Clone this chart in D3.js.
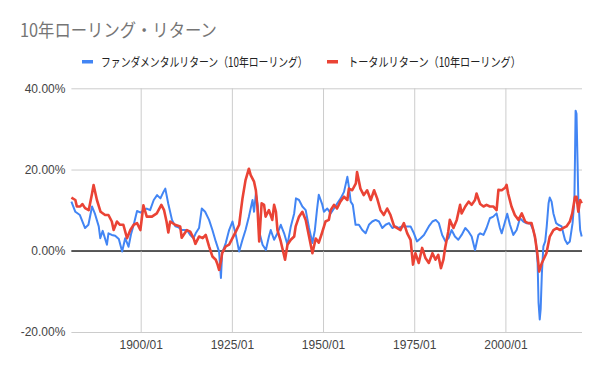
<!DOCTYPE html>
<html>
<head>
<meta charset="utf-8">
<script src="https://cdn.jsdelivr.net/npm/d3@7"></script>
<style>
  body { margin: 0; background: #fff; }
  svg text { font-family: "Liberation Sans", Arial, sans-serif; }
</style>
</head>
<body>
<svg id="chart"></svg>
<script>
// 10年ローリング・リターン
const fundDates = ["1881/01","1882/02","1883/05","1884/10","1885/09","1886/09","1887/07","1888/07","1888/12","1889/08",
  "1890/10","1891/03","1892/02","1893/01","1894/01","1894/12","1895/10","1896/09","1897/05","1898/02",
  "1899/01","1900/01","1900/10","1901/09","1902/08","1903/08","1904/07","1905/06","1906/04","1906/10",
  "1907/08","1908/08","1909/07","1910/05","1911/04","1912/09","1913/08","1914/07","1915/02","1916/01",
  "1916/10","1917/09","1918/10","1919/09","1920/08","1921/07","1922/01","1922/05","1923/05","1924/04",
  "1925/03","1926/02","1927/01","1927/12","1928/10","1929/09","1930/09","1931/02","1931/08","1932/02",
  "1932/07","1933/06","1934/05","1935/03","1935/09","1936/08","1937/07","1938/06","1939/05","1940/04",
  "1941/03","1942/02","1942/08","1943/06","1944/05","1945/04","1946/03","1947/02","1947/10","1948/05",
  "1948/11","1949/10","1950/04","1951/03","1952/02","1953/01","1953/12","1954/11","1955/10","1956/09",
  "1957/02","1957/08","1958/03","1958/12","1959/11","1960/10","1961/09","1962/08","1963/07","1964/06",
  "1965/05","1966/04","1967/03","1968/02","1969/01","1969/12","1970/10","1971/09","1972/08","1974/01",
  "1974/12","1975/10","1976/10","1977/09","1979/01","1980/01","1980/12","1981/10","1982/09","1983/08",
  "1984/06","1985/04","1986/03","1987/02","1988/01","1989/01","1989/12","1990/10","1991/09","1992/08",
  "1993/02","1994/01","1994/11","1995/10","1996/09","1997/08","1998/07","1999/01","1999/12","2000/07",
  "2001/04","2002/03","2003/02","2004/01","2004/12","2005/10","2006/10","2007/09","2008/05","2008/11",
  "2009/02","2009/06","2009/09","2010/01","2010/06","2010/12","2011/05","2011/11","2012/03","2012/09",
  "2013/03","2013/12","2014/07","2015/06","2016/05","2017/01","2017/09","2018/06","2018/12","2019/02",
  "2019/04","2019/07","2019/10","2020/01","2020/07","2020/12"];
const fundValues = [12.1,9.6,8.8,5.6,6.4,10.9,9.0,6.0,3.1,4.9,
  1.5,4.3,3.9,3.7,2.9,-0.2,3.1,1.0,4.0,6.4,
  9.8,9.4,10.0,10.4,10.0,12.5,13.7,12.9,14.5,15.3,
  11.5,7.6,6.0,5.8,5.1,5.1,3.9,3.1,4.3,5.6,
  10.4,9.6,7.6,5.1,2.3,-0.2,-6.7,-0.6,1.9,5.1,
  7.2,3.9,-0.2,2.7,5.1,8.4,12.5,9.6,14.1,11.0,
  4.7,1.5,0.2,3.5,5.1,2.7,4.3,6.4,4.3,1.5,
  6.0,9.2,12.9,12.5,10.9,10.0,5.6,1.9,5.0,10.0,
  13.8,11.5,9.6,10.4,9.2,10.4,11.7,12.9,14.5,18.2,
  15.8,12.1,11.3,6.4,6.4,5.1,4.3,6.4,7.2,7.6,
  7.2,5.6,6.4,6.8,5.6,6.0,5.6,6.0,6.0,6.0,
  4.3,2.3,3.1,3.9,6.0,7.2,7.6,6.8,3.9,2.3,
  3.1,5.1,3.5,2.7,3.9,5.6,4.7,3.5,0.2,3.9,
  4.3,3.9,5.6,8.0,8.4,9.2,5.6,4.3,7.2,9.1,
  6.4,3.9,5.1,8.0,7.2,6.8,6.8,5.1,2.3,-3.0,
  -12.8,-16.9,-14.4,-5.5,1.1,2.3,6.0,11.7,13.1,12.1,
  9.2,6.8,6.4,6.0,2.7,1.7,2.3,6.8,12.5,23.1,
  34.5,33.7,23.1,12.5,5.1,3.5];

const totalDates = ["1881/01","1882/02","1882/07","1883/06","1884/01","1884/10","1885/10","1886/09","1887/02","1888/01",
  "1889/01","1890/04","1891/03","1892/02","1892/08","1893/07","1894/05","1895/04","1896/04","1897/03",
  "1898/02","1899/01","1899/12","1900/10","1901/09","1903/02","1904/06","1905/09","1906/06","1907/02",
  "1907/08","1908/02","1909/06","1910/11","1911/04","1912/09","1913/08","1914/07","1915/01","1916/01",
  "1917/01","1917/11","1918/10","1919/09","1920/08","1921/02","1921/07","1922/01","1922/05","1923/05",
  "1924/04","1925/03","1926/02","1927/01","1927/07","1927/12","1928/10","1929/09","1930/03","1931/02",
  "1931/08","1932/01","1932/07","1933/03","1933/11","1934/04","1935/03","1936/02","1936/08","1937/02",
  "1937/07","1938/06","1938/11","1939/08","1940/04","1941/03","1942/02","1942/07","1943/06","1944/05",
  "1945/04","1946/03","1947/02","1948/01","1948/11","1949/10","1950/09","1951/08","1952/02","1953/01",
  "1953/11","1954/10","1955/10","1956/09","1957/02","1958/01","1959/01","1959/05","1960/04","1961/03",
  "1962/02","1963/02","1964/01","1964/11","1965/10","1966/09","1967/08","1968/07","1969/07","1970/05",
  "1971/04","1972/03","1973/02","1974/01","1974/09","1975/05","1976/04","1977/03","1978/02","1979/01",
  "1980/01","1980/11","1981/08","1982/05","1983/01","1983/07","1984/05","1984/10","1985/10","1986/09",
  "1987/08","1988/01","1989/01","1989/12","1990/10","1991/09","1992/02","1993/02","1994/01","1994/11",
  "1995/10","1996/09","1997/08","1998/02","1999/01","1999/12","2000/05","2000/10","2001/09","2002/08",
  "2003/08","2004/07","2005/06","2006/04","2007/03","2008/02","2008/10","2009/04","2010/01","2010/06",
  "2011/04","2012/03","2013/03","2014/02","2015/01","2015/11","2016/10","2017/09","2018/05","2019/02",
  "2019/07","2020/01","2020/07","2020/12"];
const totalValues = [13.1,12.5,10.9,10.9,11.5,10.5,10.0,14.1,16.2,12.5,
  9.6,8.8,8.8,7.2,5.1,7.2,6.4,6.4,3.1,5.1,
  6.4,6.8,5.1,11.2,8.4,8.4,9.2,11.3,10.0,7.2,
  4.5,7.2,6.4,6.0,3.2,5.1,4.7,3.1,1.7,3.5,
  3.1,3.9,1.1,-1.4,-2.2,-3.4,-4.7,-2.6,-0.6,1.1,
  1.5,3.1,4.7,6.4,10.0,12.9,17.4,20.2,18.6,17.0,
  14.9,10.9,2.3,11.7,11.3,8.4,10.0,7.6,11.3,9.6,
  5.1,2.3,0.7,-2.2,1.5,2.7,3.5,6.0,8.4,9.6,
  7.6,3.5,-0.6,3.0,2.0,4.5,7.2,7.6,10.0,11.3,
  10.4,12.1,13.3,12.5,15.3,14.9,16.6,19.4,15.3,13.7,
  14.9,12.5,14.9,12.9,10.0,8.8,10.4,8.8,6.0,5.6,
  5.1,6.8,4.3,2.7,-3.4,-0.6,-3.0,0.7,-1.8,-3.0,
  -0.6,-2.2,-1.0,-4.3,-2.2,0.8,4.7,7.6,5.6,7.6,
  11.3,9.2,10.9,12.1,11.3,12.5,14.1,11.5,10.9,11.3,
  10.9,10.9,10.0,15.0,14.9,15.5,16.2,14.1,10.9,8.8,
  7.6,9.2,7.2,6.8,6.8,3.5,-0.6,-5.1,-3.0,-2.2,
  -0.6,3.5,5.1,5.6,5.1,5.6,6.0,7.2,9.2,13.3,
  13.3,9.6,12.5,11.7];

const yTicks = [-20, 0, 20, 40];
const xTickLabels = ["1900/01", "1925/01", "1950/01", "1975/01", "2000/01"];
const seriesNames = ["ファンダメンタルリターン（10年ローリング）", "トータルリターン（10年ローリング）"];
const colors = ["#4285f4", "#ea4335"];

const W = 600, H = 371;
const margin = {top: 88.3, right: 18, bottom: 39, left: 71.4};
const width = W - margin.left - margin.right,
      height = H - margin.top - margin.bottom;

const parse = d3.timeParse("%Y/%m");

const svg = d3.select("#chart")
    .attr("width", W)
    .attr("height", H);

const x = d3.scaleTime()
    .domain([parse("1881/01"), parse("2021/01")])
    .range([0, width]);

const y = d3.scaleLinear()
    .domain([-20, 40])
    .range([height, 0]);

const g = svg.append("g")
    .attr("transform", "translate(" + margin.left + "," + margin.top + ")");

// horizontal grid + y labels
const yAxis = d3.axisLeft(y)
    .tickValues(yTicks)
    .tickSize(-width)
    .tickPadding(6)
    .tickFormat(d => d.toFixed(2) + "%");
const yg = g.append("g").call(yAxis);
yg.select(".domain").remove();
yg.selectAll("line")
    .attr("stroke", d => d === 0 ? "#333" : "#ccc");
yg.selectAll("text")
    .attr("fill", "#444")
    .style("font-size", "12px");

// vertical grid + x labels
const xAxis = d3.axisBottom(x)
    .tickValues(xTickLabels.map(parse))
    .tickSize(-height)
    .tickPadding(8)
    .tickFormat(d3.timeFormat("%Y/%m"));
const xg = g.append("g")
    .attr("transform", "translate(0," + height + ")")
    .call(xAxis);
xg.select(".domain").remove();
xg.selectAll("line").attr("stroke", "#ccc");
xg.selectAll("text")
    .attr("fill", "#444")
    .style("font-size", "12px");

// zero line again, over the vertical grid
g.append("line")
    .attr("x1", 0).attr("x2", width)
    .attr("y1", y(0)).attr("y2", y(0))
    .attr("stroke", "#333");

const line = d3.line()
    .x(d => x(d.date))
    .y(d => y(d.value));

const series = [
    fundDates.map((d, i) => ({date: parse(d), value: fundValues[i]})),
    totalDates.map((d, i) => ({date: parse(d), value: totalValues[i]}))
];

series.forEach((s, i) => {
    g.append("path")
        .datum(s)
        .attr("fill", "none")
        .attr("stroke", colors[i])
        .attr("stroke-width", i === 1 ? 2.6 : 2)
        .attr("stroke-linejoin", "round")
        .attr("d", line);
});

// squeeze a text horizontally to a given width (the original font is proportional)
function fitText(t, x0, y0, w) {
    const n = t.node().getComputedTextLength();
    t.attr("transform", "translate(" + x0 + "," + y0 + ") scale(" + (w / n) + ",1)");
}

// title
const title = svg.append("text")
    .attr("fill", "#757575")
    .style("font-family", "'Noto Sans CJK JP', sans-serif")
    .style("font-size", "18px")
    .text("10年ローリング・リターン");
fitText(title, 20, 37, 197);

// legend
const legend = [
    {x: 82, tx: 101, len: 207},
    {x: 327, tx: 348, len: 173}
];
legend.forEach((l, i) => {
    svg.append("rect")
        .attr("x", l.x).attr("y", 60)
        .attr("width", 11).attr("height", 3.5)
        .attr("fill", colors[i]);
    const t = svg.append("text")
        .attr("fill", "#222")
        .style("font-family", "'Noto Sans CJK JP', sans-serif")
        .style("font-size", "12.5px")
        .text(seriesNames[i]);
    fitText(t, l.tx, 66.5, l.len);
});
</script>
</body>
</html>
